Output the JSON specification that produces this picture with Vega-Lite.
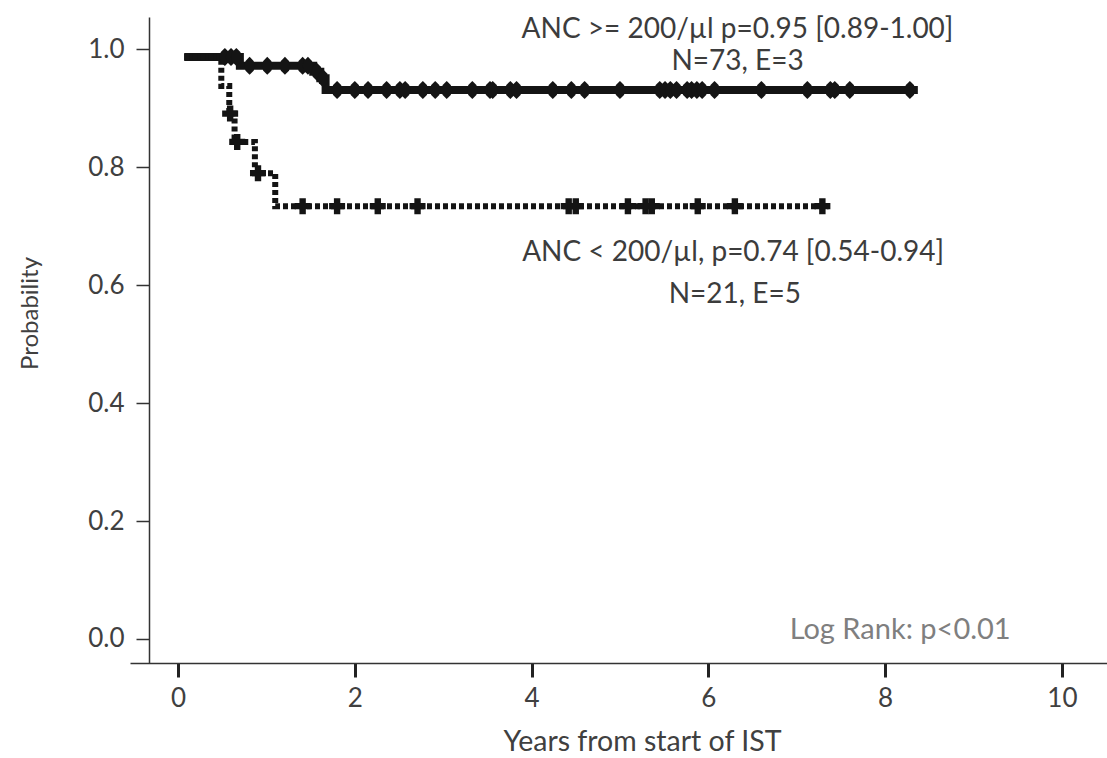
{
  "$schema": "https://vega.github.io/schema/vega-lite/v6.json",
  "width": 977,
  "height": 646,
  "autosize": "none",
  "padding": {"left": 130, "top": 17, "right": 0, "bottom": 95},
  "background": "white",
  "config": {"view": {"stroke": null}, "font": "Lato", "axis": {"grid": false}},
  "datasets": {
    "curves": [
      {"group": "ge200", "t": 0.07, "s": 0.987},
      {"group": "ge200", "t": 0.70, "s": 0.972},
      {"group": "ge200", "t": 1.53, "s": 0.962},
      {"group": "ge200", "t": 1.61, "s": 0.951},
      {"group": "ge200", "t": 1.67, "s": 0.931},
      {"group": "ge200", "t": 8.37, "s": 0.931},
      {"group": "lt200", "t": 0.07, "s": 0.987},
      {"group": "lt200", "t": 0.49, "s": 0.938},
      {"group": "lt200", "t": 0.58, "s": 0.891},
      {"group": "lt200", "t": 0.64, "s": 0.843},
      {"group": "lt200", "t": 0.87, "s": 0.790},
      {"group": "lt200", "t": 1.10, "s": 0.734},
      {"group": "lt200", "t": 7.36, "s": 0.734}
    ],
    "censored": [
      {"group": "ge200", "t": 0.53, "s": 0.987},
      {"group": "ge200", "t": 0.60, "s": 0.987},
      {"group": "ge200", "t": 0.66, "s": 0.987},
      {"group": "ge200", "t": 0.81, "s": 0.972},
      {"group": "ge200", "t": 1.01, "s": 0.972},
      {"group": "ge200", "t": 1.21, "s": 0.972},
      {"group": "ge200", "t": 1.41, "s": 0.972},
      {"group": "ge200", "t": 1.47, "s": 0.972},
      {"group": "ge200", "t": 1.57, "s": 0.962},
      {"group": "ge200", "t": 1.64, "s": 0.951},
      {"group": "ge200", "t": 1.80, "s": 0.931},
      {"group": "ge200", "t": 2.00, "s": 0.931},
      {"group": "ge200", "t": 2.15, "s": 0.931},
      {"group": "ge200", "t": 2.36, "s": 0.931},
      {"group": "ge200", "t": 2.51, "s": 0.931},
      {"group": "ge200", "t": 2.57, "s": 0.931},
      {"group": "ge200", "t": 2.77, "s": 0.931},
      {"group": "ge200", "t": 2.91, "s": 0.931},
      {"group": "ge200", "t": 3.04, "s": 0.931},
      {"group": "ge200", "t": 3.33, "s": 0.931},
      {"group": "ge200", "t": 3.53, "s": 0.931},
      {"group": "ge200", "t": 3.56, "s": 0.931},
      {"group": "ge200", "t": 3.76, "s": 0.931},
      {"group": "ge200", "t": 3.83, "s": 0.931},
      {"group": "ge200", "t": 4.24, "s": 0.931},
      {"group": "ge200", "t": 4.45, "s": 0.931},
      {"group": "ge200", "t": 4.60, "s": 0.931},
      {"group": "ge200", "t": 5.00, "s": 0.931},
      {"group": "ge200", "t": 5.45, "s": 0.931},
      {"group": "ge200", "t": 5.51, "s": 0.931},
      {"group": "ge200", "t": 5.57, "s": 0.931},
      {"group": "ge200", "t": 5.64, "s": 0.931},
      {"group": "ge200", "t": 5.76, "s": 0.931},
      {"group": "ge200", "t": 5.81, "s": 0.931},
      {"group": "ge200", "t": 5.87, "s": 0.931},
      {"group": "ge200", "t": 5.93, "s": 0.931},
      {"group": "ge200", "t": 6.07, "s": 0.931},
      {"group": "ge200", "t": 6.60, "s": 0.931},
      {"group": "ge200", "t": 7.12, "s": 0.931},
      {"group": "ge200", "t": 7.38, "s": 0.931},
      {"group": "ge200", "t": 7.43, "s": 0.931},
      {"group": "ge200", "t": 7.60, "s": 0.931},
      {"group": "ge200", "t": 8.28, "s": 0.931},
      {"group": "lt200", "t": 0.59, "s": 0.891},
      {"group": "lt200", "t": 0.67, "s": 0.843},
      {"group": "lt200", "t": 0.905, "s": 0.790},
      {"group": "lt200", "t": 1.41, "s": 0.734},
      {"group": "lt200", "t": 1.80, "s": 0.734},
      {"group": "lt200", "t": 2.26, "s": 0.734},
      {"group": "lt200", "t": 2.71, "s": 0.734},
      {"group": "lt200", "t": 4.42, "s": 0.734},
      {"group": "lt200", "t": 4.50, "s": 0.734},
      {"group": "lt200", "t": 5.09, "s": 0.734},
      {"group": "lt200", "t": 5.29, "s": 0.734},
      {"group": "lt200", "t": 5.36, "s": 0.734},
      {"group": "lt200", "t": 5.88, "s": 0.734},
      {"group": "lt200", "t": 6.30, "s": 0.734},
      {"group": "lt200", "t": 7.29, "s": 0.734}
    ],
    "notes": [
      {"kind": "main", "label": "ANC >= 200/µl p=0.95 [0.89-1.00]", "t": 6.33, "p": 1.033},
      {"kind": "main", "label": "N=73, E=3", "t": 6.33, "p": 0.978},
      {"kind": "main", "label": "ANC < 200/µl, p=0.74 [0.54-0.94]", "t": 6.28, "p": 0.655},
      {"kind": "main", "label": "N=21, E=5", "t": 6.30, "p": 0.583},
      {"kind": "test", "label": "Log Rank: p<0.01", "t": 8.17, "p": 0.015}
    ]
  },
  "layer": [
    {
      "data": {"name": "curves"},
      "transform": [{"filter": "datum.group === 'ge200'"}],
      "mark": {"type": "line", "interpolate": "step-after", "color": "#141414", "strokeWidth": 8},
      "encoding": {
        "x": {"field": "t", "type": "quantitative", "scale": {"domain": [-0.543, 10.51], "nice": false, "zero": false},
          "axis": {"values": [0, 2, 4, 6, 8, 10], "format": "d", "title": "Years from start of IST", "tickSize": 14, "tickWidth": 3, "tickColor": "#222222", "domainColor": "#333333", "domainWidth": 1.5, "labelFontSize": 26, "labelColor": "#404040", "labelPadding": 8, "labelFlush": false, "titleFontSize": 28.5, "titleFontWeight": "normal", "titleColor": "#404040", "titleX": 512, "titleY": 78, "titleBaseline": "middle", "titleAlign": "center"}},
        "y": {"field": "s", "type": "quantitative", "scale": {"domain": [-0.0407, 1.0548], "nice": false, "zero": false},
          "axis": {"values": [0, 0.2, 0.4, 0.6, 0.8, 1.0], "format": ".1f", "title": "Probability", "offset": -19, "tickSize": 13, "tickWidth": 1.5, "tickColor": "#333333", "domainColor": "#333333", "domainWidth": 1.5, "labelFontSize": 26, "labelColor": "#404040", "labelPadding": 12, "titleFontSize": 24, "titleFontWeight": "normal", "titleColor": "#404040", "titleX": -119, "titleY": 296, "titleAngle": 270, "titleBaseline": "middle", "titleAlign": "center"}}
      }
    },
    {
      "data": {"name": "curves"},
      "transform": [{"filter": "datum.group === 'lt200'"}],
      "mark": {"type": "line", "interpolate": "step-after", "color": "#141414", "strokeWidth": 6, "strokeDash": [5, 3]},
      "encoding": {
        "x": {"field": "t", "type": "quantitative"},
        "y": {"field": "s", "type": "quantitative"}
      }
    },
    {
      "data": {"name": "censored"},
      "transform": [{"filter": "datum.group === 'ge200'"}],
      "mark": {"type": "point", "shape": "M0,-1L0.45,-0.55L0.62,0L0.45,0.55L0,1L-0.45,0.55L-0.62,0L-0.45,-0.55Z", "filled": true, "color": "#141414", "size": 324, "opacity": 1},
      "encoding": {
        "x": {"field": "t", "type": "quantitative"},
        "y": {"field": "s", "type": "quantitative"}
      }
    },
    {
      "data": {"name": "censored"},
      "transform": [{"filter": "datum.group === 'lt200'"}],
      "mark": {"type": "point", "shape": "cross", "filled": true, "color": "#141414", "size": 256, "opacity": 1},
      "encoding": {
        "x": {"field": "t", "type": "quantitative"},
        "y": {"field": "s", "type": "quantitative"}
      }
    },
    {
      "data": {"name": "notes"},
      "transform": [{"filter": "datum.kind === 'main'"}],
      "mark": {"type": "text", "align": "center", "baseline": "middle", "fontSize": 28, "color": "#3c3c3c"},
      "encoding": {
        "x": {"field": "t", "type": "quantitative"},
        "y": {"field": "p", "type": "quantitative"},
        "text": {"field": "label"}
      }
    },
    {
      "data": {"name": "notes"},
      "transform": [{"filter": "datum.kind === 'test'"}],
      "mark": {"type": "text", "align": "center", "baseline": "middle", "fontSize": 29, "color": "#7f7f7f"},
      "encoding": {
        "x": {"field": "t", "type": "quantitative"},
        "y": {"field": "p", "type": "quantitative"},
        "text": {"field": "label"}
      }
    }
  ]
}
